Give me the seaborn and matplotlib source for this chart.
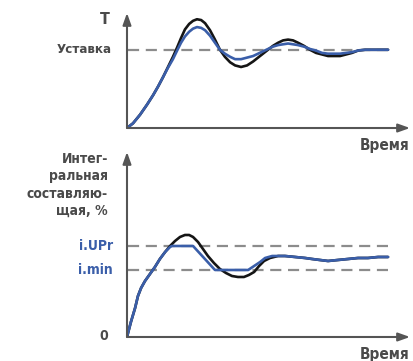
import numpy as np
import pandas as pd
import seaborn as sns
import matplotlib.pyplot as plt

# --- top panel: temperature vs time (setpoint = 100) ---
t_top = [0, 2.3, 5.0, 7.7, 10.0, 11.9, 13.8, 15.7, 17.6, 19.2, 20.7, 22.2, 23.8, 25.3, 26.8,
         28.4, 29.9, 31.8, 33.7, 35.6, 37.5, 39.5, 41.4, 43.7, 46.0, 48.3, 50.2, 52.1, 54.0,
         55.9, 57.9, 59.8, 61.7, 63.6, 65.5, 67.8, 70.1, 72.4, 74.7, 77.0, 79.3, 81.6, 83.9,
         86.2, 88.5, 91.2, 93.9, 96.9, 100]
T_black = [0, 6, 17, 30, 42, 53, 65, 78, 91, 103, 115, 126, 133, 137, 139, 138, 134, 125, 113,
           100, 91, 84, 80, 78, 80, 85, 90, 95, 100, 105, 109, 112, 113, 112, 109, 105, 100, 96,
           94, 92, 92, 92, 94, 96, 99, 100, 100, 100, 100]
T_blue = [0, 6, 17, 30, 42, 53, 65, 77, 88, 99, 109, 117, 123, 127, 129, 128, 125, 118, 109,
          100, 95, 91, 88, 88, 90, 92, 95, 98, 101, 104, 106, 107, 108, 107, 106, 104, 101, 99,
          96, 95, 95, 95, 96, 97, 99, 100, 100, 100, 100]
setpoint = 100

# --- bottom panel: integral component, % ---
t_blue_i = [0, 1.5, 3.1, 4.2, 5.4, 6.9, 8.8, 10.7, 12.6, 14.6, 16.5, 17.2, 25.3, 29.5, 33.7,
            46.4, 48.7, 51.0, 52.9, 55.6, 57.9, 60.5, 64.4, 68.2, 70.9, 73.9, 77.0, 80.8,
            84.7, 88.5, 92.3, 96.2, 100]
i_blue = [0, 7.5, 14.5, 20.5, 24.5, 28, 31.5, 35, 39, 42.5, 45, 45.5, 45.5, 39.5, 33.5,
          33.5, 35.5, 37.5, 39.5, 40.5, 40.5, 40.5, 40, 39.5, 39, 38.5, 38, 38.5, 39, 39.5,
          39.5, 40, 40]
t_black_i = [0, 1.5, 3.1, 4.2, 5.4, 6.9, 8.8, 10.7, 12.6, 14.6, 16.5, 18.4, 20.3, 22.2, 23.8,
             25.3, 27.2, 29.1, 31.0, 33.3, 35.6, 37.9, 40.2, 42.5, 44.8, 46.7, 48.7, 50.6,
             52.5, 54.8, 57.9, 60.5, 64.4, 68.2, 70.9, 73.9, 77.0, 80.8, 84.7, 88.5, 92.3,
             96.2, 100]
i_black = [0, 7.5, 14.5, 20.5, 24.5, 28, 31.5, 35, 39, 42.5, 45.5, 48, 50, 51, 51, 50, 47.5,
           44, 40.5, 37, 34, 32, 30.5, 30, 30, 31, 32.5, 35.5, 38, 39.5, 40.5, 40.5, 40, 39.5,
           39, 38.5, 38, 38.5, 39, 39.5, 39.5, 40, 40]
i_upr = 45.5
i_min = 33.5

BLACK = '#151515'
BLUE = '#3a5ea9'
GRAY = '#8c8c8c'
AXC = '#555555'
TXT = '#4a4a4a'

sns.set_style('white')
plt.rcParams['font.family'] = ['DejaVu Sans']
plt.rcParams['font.stretch'] = 'condensed'

fig = plt.figure(figsize=(4.13, 3.61), dpi=100)
ax1 = fig.add_axes([0.3075, 0.6454, 0.6852, 0.3186])
ax2 = fig.add_axes([0.3075, 0.0665, 0.6852, 0.5125])

top = pd.DataFrame({'t': t_top, 'black': T_black, 'blue': T_blue})
bot_k = pd.DataFrame({'t': t_black_i, 'v': i_black})
bot_b = pd.DataFrame({'t': t_blue_i, 'v': i_blue})

XMAX = 108.4
for ax, ymax in ((ax1, 147), (ax2, 92.5)):
    ax.set_xlim(0, XMAX)
    ax.set_ylim(0, ymax)
    # axis arrows
    for tip in ((XMAX, 0), (0, ymax)):
        ax.annotate('', xy=tip, xytext=(0, 0), annotation_clip=False,
                    arrowprops=dict(arrowstyle='-|>,head_length=0.7,head_width=0.25',
                                    color=AXC, lw=1.5, shrinkA=0, shrinkB=0))

dash = dict(color=GRAY, lw=1.6, ls=(0, (5, 3)), zorder=1)
ax1.plot([0.5, 100], [setpoint, setpoint], **dash)
ax2.plot([0.5, 100], [i_upr, i_upr], **dash)
ax2.plot([0.5, 100], [i_min, i_min], **dash)

sns.lineplot(data=top, x='t', y='black', color=BLACK, lw=1.9, estimator=None, ax=ax1)
sns.lineplot(data=top, x='t', y='blue', color=BLUE, lw=1.9, estimator=None, ax=ax1)
sns.lineplot(data=bot_k, x='t', y='v', color=BLACK, lw=1.9, estimator=None, sort=False, ax=ax2)
sns.lineplot(data=bot_b, x='t', y='v', color=BLUE, lw=1.9, estimator=None, sort=False, ax=ax2)
for ax in (ax1, ax2):
    ax.axis('off')

# labels
tr1 = ax1.get_yaxis_transform()
tr2 = ax2.get_yaxis_transform()
ax1.text(-0.08, 139, 'T', transform=tr1, ha='center', va='center', fontsize=11.5,
         fontweight='bold', color=TXT)
ax1.text(-0.053, setpoint, 'Уставка', transform=tr1, ha='right', va='center', fontsize=9.5,
         fontweight='bold', color=TXT)
ax1.text(1.0, -0.15, 'Время', transform=ax1.transAxes, ha='right', va='center', fontsize=11,
         fontweight='bold', color=TXT)
ax2.text(1.0, -0.095, 'Время', transform=ax2.transAxes, ha='right', va='center', fontsize=11,
         fontweight='bold', color=TXT)
ax2.text(-0.067, 76, 'Интег-\nральная\nсоставляю-\nщая, %', transform=tr2, ha='right',
         va='center', fontsize=10, fontweight='bold', color=TXT, linespacing=1.32)
ax2.text(-0.05, i_upr, 'i.UPr', transform=tr2, ha='right', va='center', fontsize=10,
         fontweight='bold', color=BLUE)
ax2.text(-0.05, i_min, 'i.min', transform=tr2, ha='right', va='center', fontsize=10,
         fontweight='bold', color=BLUE)
ax2.text(-0.067, 0.5, '0', transform=tr2, ha='right', va='center', fontsize=10,
         fontweight='bold', color=TXT)

fig.savefig('out.png', dpi=100)
